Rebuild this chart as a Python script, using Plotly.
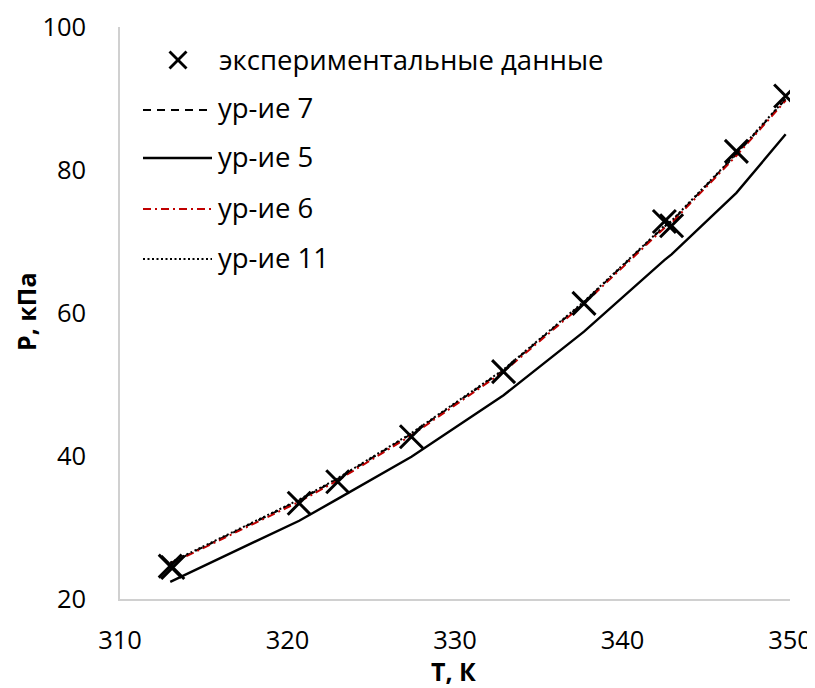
import plotly.graph_objects as go

# ---------------- data ----------------
T_exp = [313.0, 313.15, 320.7, 323.0, 327.4, 332.9, 337.7, 342.5, 342.93, 346.8, 349.74]
P_exp = [24.6, 24.4, 33.4, 36.4, 42.7, 51.8, 61.35, 72.8, 72.2, 82.6, 90.35]

T_model = [313.0, 320.7, 323.0, 327.4, 332.9, 337.7, 342.5, 342.93, 346.8, 349.74]
P_eq7 = [25.0, 33.8, 36.8, 43.1, 52.0, 61.5, 72.1, 72.8, 82.2, 89.9]
P_eq5 = [22.4, 30.95, 34.0, 39.9, 48.5, 57.4, 67.4, 68.2, 76.8, 85.0]
P_eq6 = [24.9, 33.6, 36.6, 42.9, 51.8, 61.3, 71.9, 72.6, 82.0, 89.7]
P_eq11 = [25.1, 33.9, 36.9, 43.2, 52.1, 61.6, 72.2, 72.9, 82.3, 90.0]

names = ["экспериментальные данные", "ур-ие 7", "ур-ие 5", "ур-ие 6", "ур-ие 11"]
x_ticks = [310, 320, 330, 340, 350]
y_ticks = [20, 40, 60, 80, 100]
x_title = "T, К"
y_title = "P, кПа"

FONT = "Open Sans"

# page (window) geometry; the page body adds an 8px offset around the figure
WIN_W, WIN_H, OFF = 815, 688, 8
W, H = WIN_W - OFF, WIN_H - OFF
# plot area in window pixels
L, R, TOP, BOT = 120, 790, 27, 599


def px(x):
    return (x - L) / (R - L)


def py(y):
    return (BOT - y) / (BOT - TOP)


fig = go.Figure()

fig.add_trace(go.Scatter(x=T_model, y=P_eq7, mode="lines", name=names[1], showlegend=False,
                         line=dict(color="black", width=2, dash="8px,6px")))
fig.add_trace(go.Scatter(x=T_model, y=P_eq5, mode="lines", name=names[2], showlegend=False,
                         line=dict(color="black", width=2.4)))
fig.add_trace(go.Scatter(x=T_model, y=P_eq6, mode="lines", name=names[3], showlegend=False,
                         line=dict(color="#c00000", width=2, dash="8px,4px,2px,4px")))
fig.add_trace(go.Scatter(x=T_model, y=P_eq11, mode="lines", name=names[4], showlegend=False,
                         line=dict(color="black", width=2, dash="2px,2.5px")))
fig.add_trace(go.Scatter(x=T_exp, y=P_exp, mode="markers", name=names[0], showlegend=False,
                         marker=dict(symbol="x-thin", size=23, color="black",
                                     line=dict(color="black", width=3))))

# ---------------- manual legend ----------------
shapes = []
annotations = []
LEG_FONT = dict(family=FONT, size=27.5, color="black")
# X marker
cx, cy, hs = 178, 60, 8.5
shapes.append(dict(type="line", xref="paper", yref="paper", x0=px(cx - hs), y0=py(cy - hs),
                   x1=px(cx + hs), y1=py(cy + hs), line=dict(color="black", width=2.8)))
shapes.append(dict(type="line", xref="paper", yref="paper", x0=px(cx - hs), y0=py(cy + hs),
                   x1=px(cx + hs), y1=py(cy - hs), line=dict(color="black", width=2.8)))
annotations.append(dict(text=names[0], xref="paper", yref="paper", x=px(217), y=py(59),
                        xanchor="left", yanchor="middle", showarrow=False, font=LEG_FONT))
legend_lines = [
    (names[1], 110, dict(color="black", width=2, dash="8px,6px")),
    (names[2], 158, dict(color="black", width=2.4)),
    (names[3], 209, dict(color="#c00000", width=2, dash="8px,4px,2px,4px")),
    (names[4], 259, dict(color="black", width=2, dash="2px,2.5px")),
]
for nm, yy, ln in legend_lines:
    shapes.append(dict(type="line", xref="paper", yref="paper", x0=px(143), x1=px(212),
                       y0=py(yy), y1=py(yy), line=ln))
    annotations.append(dict(text=nm, xref="paper", yref="paper", x=px(216), y=py(yy - 2),
                            xanchor="left", yanchor="middle", showarrow=False, font=LEG_FONT))

# ---------------- axis titles ----------------
TITLE_FONT = dict(family=FONT, size=25, color="black")
annotations.append(dict(text="<b>" + x_title + "</b>", xref="paper", yref="paper",
                        x=px(453), y=py(671), xanchor="center", yanchor="middle",
                        borderpad=0, showarrow=False, font=TITLE_FONT))
annotations.append(dict(text="<b>" + y_title + "</b>", xref="paper", yref="paper",
                        x=px(26), y=py(312), xanchor="center", yanchor="middle",
                        borderpad=0, textangle=-90, showarrow=False, font=TITLE_FONT))

fig.update_layout(
    width=W, height=H,
    margin=dict(l=L - OFF, r=WIN_W - R, t=TOP - OFF, b=WIN_H - BOT, pad=0),
    paper_bgcolor="white", plot_bgcolor="white",
    font=dict(family=FONT, size=26, color="black"),
    showlegend=False,
    shapes=shapes,
    annotations=annotations,
    xaxis=dict(range=[310, 350], tickvals=x_ticks, ticktext=[str(v) for v in x_ticks],
               showgrid=False, zeroline=False, showline=True, linecolor="#d0d0d0", linewidth=1.5,
               ticks="", ticklabelstandoff=18, automargin=False,
               tickfont=dict(family=FONT, size=25.5)),
    yaxis=dict(range=[20, 100], tickvals=y_ticks, ticktext=[str(v) for v in y_ticks],
               showgrid=False, zeroline=False, showline=True, linecolor="#d0d0d0", linewidth=1.5,
               ticks="", ticklabelstandoff=27, automargin=False,
               tickfont=dict(family=FONT, size=25.5)),
)

fig.write_html("out.html")
